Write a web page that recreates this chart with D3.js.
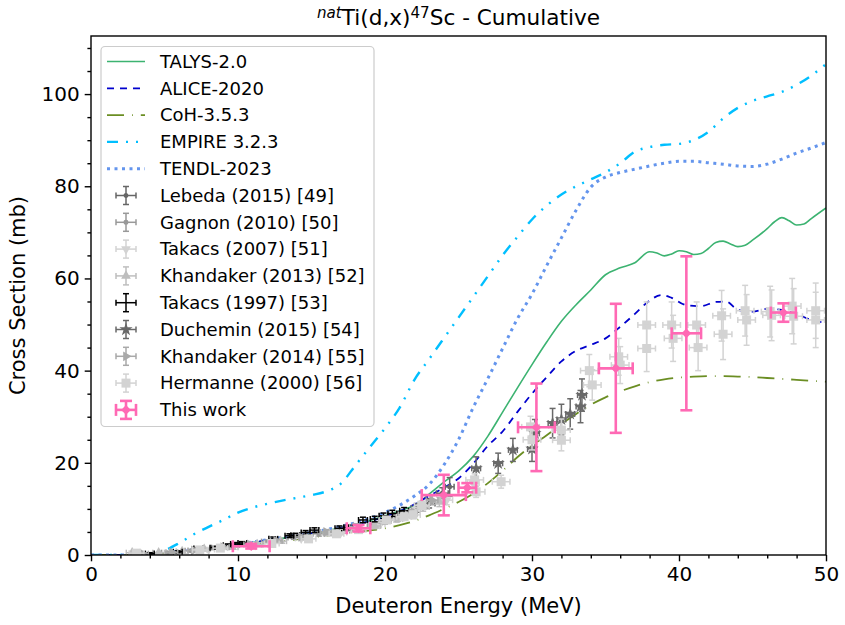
<!DOCTYPE html>
<html><head><meta charset="utf-8">
<script src="https://cdn.jsdelivr.net/npm/d3@7"></script>
<style>body{margin:0;background:#fff}svg{display:block;font-family:"DejaVu Sans",sans-serif}</style>
</head><body><svg id="c" width="845" height="625"></svg>
<script>
// ---------- theory curves [E (MeV), sigma (mb)] ----------
const talys = [[0,0],[2,0],[3,0.05],[4,0.2],[5,0.45],[6,0.8],[7,1.1],[8,1.5],[9,1.9],[10,2.3],[11,2.7],[12,3.1],[13,3.6],[14,4.1],[15,4.6],[16,5.2],[17,5.9],[18,6.6],[19,7.5],[20,8.5],[21,9.6],[22,10.8],[23,13.2],[24,15.8],[25,18.2],[26,21.4],[27,25.8],[28,31],[29,36.2],[30,41.3],[31,46.2],[32,50.7],[33,54.3],[34,57.5],[35,60.8],[36,62.3],[37,63.4],[38,65.8],[38.5,65.5],[39,64.9],[39.5,65.3],[40,66],[40.5,65.8],[41,65.2],[41.5,65.4],[42,66.5],[42.5,67.8],[43,68.1],[43.5,67.5],[44,66.9],[44.5,67.2],[45,68.3],[46,70.8],[46.5,72.3],[47,73.2],[47.5,72.5],[48,71.6],[48.5,71.8],[49,73],[50,75.3]];
const alice = [[0,0],[2,0],[4,0.2],[6,0.8],[8,1.5],[10,2.3],[12,3.2],[14,4.2],[16,5.3],[18,6.6],[20,8.3],[21,9.5],[22,11],[23,12.8],[24,14.6],[25,16.6],[26,19.8],[27,23.7],[28,26.8],[29,31],[30,35],[31,38.6],[32,42],[33,44.3],[34,45.6],[35,47],[36,49.5],[37,52.3],[38,55.2],[38.8,56.4],[39.5,55.8],[40.5,54.2],[41.5,54],[42.5,54.9],[43.2,55],[44,53.2],[45,52.8],[46,53.4],[47,53.2],[48,52.3],[49,51.0],[50,50.4]];
const coh = [[0,0],[2,0],[4,0.15],[6,0.6],[8,1.2],[10,1.9],[12,2.6],[14,3.4],[16,4.2],[18,5],[20,5.8],[21,6.5],[22,7.4],[23,8.6],[24,10],[25,11.5],[26,13.3],[27,15.6],[28,18.3],[29,21.2],[30,23.8],[31,26],[32,28.4],[33,30.6],[34,32.6],[35,34.2],[36,35.5],[37,36.6],[38,37.5],[39,38.1],[40,38.5],[41,38.7],[42,38.8],[43,38.8],[44,38.7],[45,38.6],[46,38.4],[47,38.2],[48,38],[49,37.8],[50,37.6]];
const empire = [[0,0],[2,0],[4,0.2],[5,1],[6,2.6],[7,4.5],[8,6.1],[9,7.6],[10,9.2],[11,10.3],[12,11.1],[13,11.8],[14,12.4],[15,13],[16,13.8],[17,15.5],[18,19.5],[19,23.5],[20,27.5],[21,32],[22,38],[23,42.5],[24,47],[25,51.5],[26,56],[27,60.5],[28,65],[29,69],[30,72.8],[31,75.8],[32,78.2],[33,80],[34,81.5],[35,83],[36,85],[37,87.5],[38,88.5],[39,89],[40,89.2],[41,90],[42,91.8],[43,94.7],[44,97],[45,98.5],[46,99.5],[47,100.5],[48,102],[49,104],[50,106.5]];
const tendl = [[0,0],[2,0],[4,0.2],[6,0.8],[8,1.5],[10,2.4],[12,3.3],[14,4.4],[16,5.5],[17,6.2],[18,7],[19,8],[20,9.2],[21,10.8],[22,12.8],[23,15.3],[24,19.5],[25,25.0],[26,32.0],[27,38.3],[28,44.8],[29,51.2],[30,56.6],[31,62.8],[32,68.8],[33,74.8],[34,79.8],[35,82.0],[36,83.0],[37,83.7],[38,84.4],[39,85],[40,85.4],[41,85.4],[42,85.1],[43,84.8],[44,84.4],[45,84.3],[46,84.8],[47,85.9],[48,87.2],[49,88.3],[50,89.5]];

// ---------- experimental data [E, sigma, dE, dsigma] ----------
const lebeda2015 = [[21.0,8.6,0.4,0.8],[22.2,10.2,0.4,0.9],[23.0,11.2,0.4,1.0],[23.9,13.4,0.4,1.2],[24.4,14.8,0.3,2.0]];
const gagnon2010 = [[5.2,0.5,0.4,0.1],[6.8,0.9,0.4,0.2],[8.6,1.6,0.4,0.2],[10.5,2.2,0.4,0.3],[12.0,2.9,0.4,0.3],[13.8,3.8,0.4,0.4],[15.5,4.6,0.4,0.5],[17.2,5.3,0.4,0.5],[19.2,6.6,0.4,0.6],[20.8,7.9,0.4,0.7]];
const takacs2007 = [[8.0,1.2,0.4,0.2],[11.2,2.2,0.4,0.3],[14.3,3.6,0.4,0.4],[17.0,4.9,0.4,0.5],[19.6,6.7,0.4,0.6],[22.0,9.5,0.4,0.8],[24.2,11.9,0.4,1.0],[26.0,15.6,0.4,1.3]];
const khandaker2013 = [[2.8,0.5,0.4,0.1],[4.6,0.5,0.4,0.1],[6.2,0.8,0.4,0.1],[7.7,1.3,0.4,0.2],[9.6,1.7,0.4,0.2],[11.3,2.3,0.4,0.3],[12.9,3.0,0.4,0.3],[14.6,3.8,0.4,0.4],[16.2,4.7,0.4,0.5],[17.8,5.6,0.4,0.5],[19.3,6.3,0.4,0.6],[20.9,8.0,0.4,0.7],[22.6,10.4,0.4,0.9],[23.7,11.5,0.4,1.0]];
const takacs1997 = [[4.0,0.3,0.3,0.2],[5.9,0.7,0.3,0.2],[7.3,1.4,0.3,0.2],[8.4,1.6,0.3,0.3],[9.3,2.1,0.3,0.3],[9.8,2.4,0.3,0.3],[10.3,2.6,0.3,0.3],[12.4,3.5,0.3,0.4],[13.5,4.2,0.3,0.4],[13.9,4.3,0.3,0.4],[14.6,4.9,0.3,0.4],[15.2,5.4,0.3,0.5],[16.9,5.8,0.3,0.5],[17.5,6.0,0.3,0.5],[18.5,7.6,0.3,0.6],[19.3,7.8,0.3,0.6],[19.9,8.5,0.3,0.6],[20.5,9.0,0.3,0.7],[21.3,9.6,0.3,0.7]];
const duchemin2015 = [[26.2,18.8,0.3,2.5],[27.7,19.9,0.3,2.2],[28.7,22.8,0.3,2.5],[30.0,23.0,0.3,2.7],[30.2,26.4,0.3,3.0],[31.4,28.6,0.3,3.2],[32.0,29.4,0.3,3.3],[32.6,30.6,0.3,3.3],[33.3,32.2,0.3,3.5],[33.4,34.7,0.3,3.5]];
const khandaker2014 = [[3.5,0.3,0.4,0.1],[5.5,0.6,0.4,0.1],[7.0,1.0,0.4,0.2],[9.0,1.7,0.4,0.2],[10.8,2.3,0.4,0.3],[12.6,3.1,0.4,0.3],[14.3,3.9,0.4,0.4],[16.0,5.0,0.4,0.5],[18.0,6.1,0.4,0.6],[20.0,7.4,0.4,0.7],[21.8,9.0,0.4,0.8],[23.2,11.9,0.4,1.0]];
const hermanne2000 = [[3.1,0.4,0.5,0.1],[7.4,1.1,0.5,0.2],[8.8,1.5,0.5,0.2],[12.3,2.5,0.5,0.3],[14.8,3.5,0.5,0.4],[16.7,4.6,0.5,0.5],[18.2,5.5,0.5,0.5],[20.1,7.6,0.5,0.6],[21.3,8.3,0.5,0.7],[21.9,8.7,0.5,0.8],[22.5,10.8,0.5,0.9],[26.1,16.3,0.6,1.3],[26.2,13.7,0.6,1.2],[27.9,15.9,0.6,1.4],[29.9,27.8,0.6,2.3],[30.0,25.0,0.6,2.2],[32.0,27.1,0.6,2.4],[32.0,24.9,0.6,2.3],[33.9,40.0,0.6,3.5],[34.1,36.9,0.6,3.3],[35.9,43.0,0.6,4.0],[36.0,41.2,0.6,4.0],[37.8,49.9,0.6,5],[37.8,44.8,0.6,5],[39.5,49.9,0.6,5],[39.6,47.0,0.6,5],[41.2,49.9,0.6,5],[41.3,45.0,0.6,5],[42.9,51.9,0.6,5.5],[43.0,47.9,0.6,5.5],[44.5,53.0,0.6,5.5],[44.6,51.0,0.6,5.5],[46.2,52.8,0.6,5.5],[46.3,52.0,0.6,5.5],[47.7,54.0,0.6,6],[47.8,51.8,0.6,6],[49.3,53.0,0.6,6],[49.3,51.0,0.6,6]];
const thisWork = [[10.9,1.9,1.25,0.5],[18.2,5.8,0.8,0.7],[24.0,13.0,1.5,4.4],[25.6,14.6,0.6,1.0],[30.3,27.7,1.25,9.5],[35.7,40.5,1.15,14],[40.5,48.1,1.0,16.7],[47.1,52.6,0.85,2.0]];

const xTicks = [0,10,20,30,40,50];
const yTicks = [0,20,40,60,80,100];

// ---------- layout ----------
const svg = d3.select("#c");
const L=91,R=826,T=36,B=555;
const x = d3.scaleLinear().domain([0,50]).range([L,R]);
const y = d3.scaleLinear().domain([0,112.6]).range([B,T]);

svg.append("defs").append("clipPath").attr("id","clp")
  .append("rect").attr("x",L).attr("y",T).attr("width",R-L).attr("height",B-T);
const plot = svg.append("g").attr("clip-path","url(#clp)");

const line = d3.line().x(d=>x(d[0])).y(d=>y(d[1])).curve(d3.curveMonotoneX);

const curves = [
  {name:"TALYS-2.0", data:talys, color:"#3cb371", w:1.6, dash:null},
  {name:"ALICE-2020", data:alice, color:"#0000cd", w:1.8, dash:"7,6"},
  {name:"CoH-3.5.3", data:coh, color:"#6b8e23", w:1.8, dash:"17,8,0.8,8"},
  {name:"EMPIRE 3.2.3", data:empire, color:"#00bfff", w:2.4, dash:"11,8,2,8,2,8"},
  {name:"TENDL-2023", data:tendl, color:"#6495ed", w:3, dash:"3,4.5"}
];
curves.forEach(c=>{
  plot.append("path").datum(c.data).attr("d",line).attr("fill","none")
    .attr("stroke",c.color).attr("stroke-width",c.w)
    .attr("stroke-dasharray",c.dash);
});

function marker(type, s){
  switch(type){
    case "o": return d3.symbol().type(d3.symbolCircle).size(s*s*0.785)();
    case "s": return d3.symbol().type(d3.symbolSquare).size(s*s)();
    case "^": case "v": case ">": return d3.symbol().type(d3.symbolTriangle).size(s*s*0.5)();
    case "*": return d3.symbol().type(d3.symbolStar).size(s*s*0.45)();
    case "D": return d3.symbol().type(d3.symbolDiamond2).size(s*s*0.5)();
  }
  return null;
}
const rot = {"v":180, ">":90};

const series = [
  {name:"Lebeda (2015) [49]", data:lebeda2015, color:"#666666", m:"o", ms:5, cap:3, w:1.5},
  {name:"Gagnon (2010) [50]", data:gagnon2010, color:"#999999", m:"o", ms:5, cap:3, w:1.5},
  {name:"Takacs (2007) [51]", data:takacs2007, color:"#d3d3d3", m:"v", ms:9, cap:3, w:1.5},
  {name:"Khandaker (2013) [52]", data:khandaker2013, color:"#bebebe", m:"^", ms:9, cap:3, w:1.5},
  {name:"Takacs (1997) [53]", data:takacs1997, color:"#000000", m:null, ms:0, cap:3, w:1.5},
  {name:"Duchemin (2015) [54]", data:duchemin2015, color:"#696969", m:"*", ms:11, cap:3, w:1.5},
  {name:"Khandaker (2014) [55]", data:khandaker2014, color:"#a9a9a9", m:">", ms:9, cap:3, w:1.5},
  {name:"Hermanne (2000) [56]", data:hermanne2000, color:"#d3d3d3", m:"s", ms:9, cap:3, w:1.5},
  {name:"This work", data:thisWork, color:"#ff69b4", m:"D", ms:11, cap:6, w:2.6}
];

function drawErr(g, cx, cy, x0, x1, y0, y1, s){
  g.append("line").attr("x1",x0).attr("x2",x1).attr("y1",cy).attr("y2",cy);
  g.append("line").attr("x1",cx).attr("x2",cx).attr("y1",y0).attr("y2",y1);
  [x0,x1].forEach(xx=>g.append("line").attr("x1",xx).attr("x2",xx).attr("y1",cy-s.cap).attr("y2",cy+s.cap));
  [y0,y1].forEach(yy=>g.append("line").attr("x1",cx-s.cap).attr("x2",cx+s.cap).attr("y1",yy).attr("y2",yy));
  if(s.m){
    g.append("path").attr("d",marker(s.m,s.ms))
      .attr("transform",`translate(${cx},${cy}) rotate(${rot[s.m]||0})`)
      .attr("fill",s.color).attr("stroke","none");
  }
}

series.forEach(s=>{
  const g = plot.append("g").attr("stroke",s.color).attr("stroke-width",s.w);
  s.data.forEach(d=>{
    drawErr(g.append("g"), x(d[0]), y(d[1]), x(d[0]-d[2]), x(d[0]+d[2]), y(d[1]-d[3]), y(d[1]+d[3]), s);
  });
});

// ---------- axes ----------
const tickFs = 20, labFs = 21, titleFs = 21.6, legFs = 18;
const xAxis = svg.append("g").attr("transform",`translate(0,${B})`)
  .call(d3.axisBottom(x).tickValues(xTicks).tickFormat(d3.format("d")).tickSize(6.3).tickPadding(5));
const xMinor = svg.append("g").attr("transform",`translate(0,${B})`)
  .call(d3.axisBottom(x).tickValues(d3.range(0,51,2).filter(v=>v%10)).tickFormat("").tickSize(3.6));
const yAxis = svg.append("g").attr("transform",`translate(${L},0)`)
  .call(d3.axisLeft(y).tickValues(yTicks).tickFormat(d3.format("d")).tickSize(6.3).tickPadding(5));
const yMinor = svg.append("g").attr("transform",`translate(${L},0)`)
  .call(d3.axisLeft(y).tickValues(d3.range(0,112,5).filter(v=>v%20)).tickFormat("").tickSize(3.6));
[xAxis,xMinor,yAxis,yMinor].forEach(a=>{
  a.select(".domain").remove();
  a.selectAll("line").attr("stroke","#000").attr("stroke-width",1.4);
  a.selectAll("text").attr("font-size",tickFs).attr("font-family","DejaVu Sans").attr("fill","#000");
});
svg.append("rect").attr("x",L).attr("y",T).attr("width",R-L).attr("height",B-T)
  .attr("fill","none").attr("stroke","#000").attr("stroke-width",1.4);

svg.append("text").attr("x",(L+R)/2).attr("y",613).attr("text-anchor","middle")
  .attr("font-size",labFs).text("Deuteron Energy (MeV)");
svg.append("text").attr("transform",`translate(25,${(T+B)/2}) rotate(-90)`).attr("text-anchor","middle")
  .attr("font-size",labFs).text("Cross Section (mb)");

const title = svg.append("text").attr("x",(L+R)/2).attr("y",25).attr("text-anchor","middle").attr("font-size",titleFs);
title.append("tspan").attr("font-size",titleFs*0.7).attr("font-style","italic").attr("dy",-7).text("nat");
title.append("tspan").attr("dy",7).text("Ti(d,x)");
title.append("tspan").attr("font-size",titleFs*0.7).attr("dy",-7).text("47");
title.append("tspan").attr("dy",7).text("Sc - Cumulative");

// ---------- legend ----------
const lg = svg.append("g");
lg.append("rect").attr("x",101).attr("y",46.5).attr("width",273).attr("height",380).attr("rx",4)
  .attr("fill","#fff").attr("fill-opacity",0.8).attr("stroke","#cccccc").attr("stroke-width",1.2);
const ly0 = 61.5, ldy = 26.8;
curves.forEach((c,i)=>{
  const yy = ly0 + i*ldy;
  lg.append("line").attr("x1",107).attr("x2",145).attr("y1",yy).attr("y2",yy)
    .attr("stroke",c.color).attr("stroke-width",c.w).attr("stroke-dasharray",c.dash);
  lg.append("text").attr("x",160).attr("y",yy).attr("dy","0.35em").attr("font-size",legFs).text(c.name);
});
series.forEach((s,j)=>{
  const yy = ly0 + (j+5)*ldy;
  const g = lg.append("g").attr("stroke",s.color).attr("stroke-width",s.w);
  const cx = 126;
  drawErr(g, cx, yy, cx-10, cx+10, yy-9, yy+9, s);
  lg.append("text").attr("x",160).attr("y",yy).attr("dy","0.35em").attr("font-size",legFs).text(s.name);
});
</script></body></html>
